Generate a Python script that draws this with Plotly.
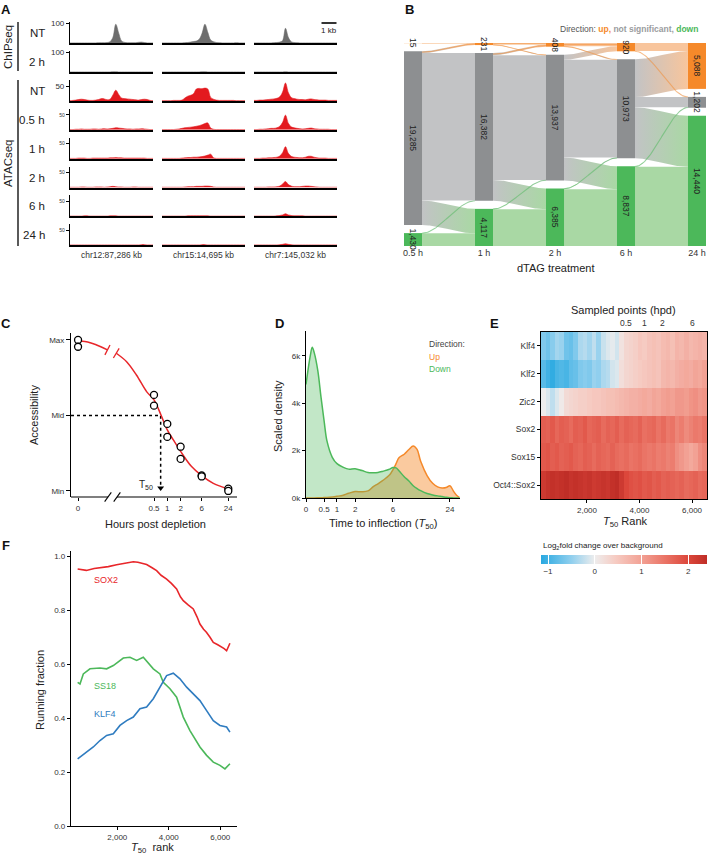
import numpy as np
import plotly.graph_objects as go

W, H = 709, 858
FONT = "Liberation Sans, Arial, sans-serif"
TXT = "#222222"

# ======================= DATA =======================
# ---- Panel A: coverage tracks (30 bins across each locus window) ----
A_LOCI = ["chr12:87,286 kb", "chr15:14,695 kb", "chr7:145,032 kb"]
A_ROW_LABELS = ["NT", "2 h", "NT", "0.5 h", "1 h", "2 h", "6 h", "24 h"]
A_ASSAY = ["ChIPseq", "ChIPseq", "ATACseq", "ATACseq", "ATACseq", "ATACseq", "ATACseq", "ATACseq"]
A_YMAX = {"ChIPseq": 105, "ATACseq": 70}
A_TICK = {"ChIPseq": 100, "ATACseq": 50}

CHIP_NT = [
    [2, 2, 2, 2, 2, 2, 2, 2, 2, 2, 3, 3, 3, 4, 8, 30, 95, 52, 12, 5, 3, 3, 3, 3, 5, 6, 4, 2, 2, 2],
    [2, 2, 2, 2, 2, 2, 2, 2, 3, 4, 6, 9, 11, 20, 50, 95, 55, 16, 8, 4, 3, 2, 2, 2, 2, 2, 3, 2, 2, 2],
    [2, 2, 2, 2, 2, 2, 2, 3, 4, 6, 14, 75, 30, 8, 4, 3, 2, 2, 2, 2, 2, 2, 2, 2, 2, 2, 2, 2, 2, 2],
]
CHIP_2H = [
    [1, 1, 1, 1, 1, 1, 1, 1, 1, 1, 1, 1, 1, 1, 1, 2, 2, 1, 1, 1, 1, 1, 1, 1, 1, 1, 1, 1, 1, 1],
    [1, 1, 1, 1, 1, 1, 1, 1, 1, 1, 1, 1, 1, 1, 2, 2, 1, 1, 1, 1, 1, 1, 1, 1, 1, 1, 1, 1, 1, 1],
    [1, 1, 1, 1, 1, 1, 1, 1, 1, 1, 1, 2, 1, 1, 1, 1, 1, 1, 1, 1, 1, 1, 1, 1, 1, 1, 1, 1, 1, 1],
]
ATAC_NT = [
    [1, 2, 3, 5, 6, 5, 3, 2, 2, 3, 5, 8, 7, 4, 6, 20, 36, 22, 10, 8, 7, 6, 5, 4, 3, 5, 6, 5, 2, 1],
    [1, 1, 1, 1, 2, 2, 2, 3, 10, 16, 19, 24, 40, 42, 41, 43, 40, 12, 6, 3, 2, 2, 2, 2, 2, 2, 1, 1, 1, 1],
    [2, 2, 3, 3, 4, 5, 6, 7, 9, 14, 30, 60, 28, 12, 8, 6, 5, 5, 4, 6, 7, 5, 4, 3, 3, 3, 2, 2, 2, 2],
]
ATAC_05H = [
    [1, 1, 2, 2, 3, 2, 2, 2, 3, 3, 2, 3, 4, 3, 4, 5, 7, 6, 5, 4, 3, 3, 2, 3, 3, 4, 3, 2, 1, 1],
    [1, 1, 1, 1, 1, 2, 3, 5, 7, 8, 9, 10, 12, 14, 17, 21, 23, 6, 2, 1, 1, 1, 1, 1, 1, 1, 1, 1, 1, 1],
    [1, 1, 2, 2, 3, 4, 5, 5, 7, 12, 25, 49, 22, 10, 7, 5, 4, 3, 4, 5, 6, 4, 3, 2, 2, 2, 2, 1, 1, 1],
]
ATAC_1H = [
    [1, 1, 1, 2, 2, 2, 1, 1, 2, 2, 2, 2, 2, 2, 3, 3, 4, 3, 3, 2, 2, 2, 2, 2, 2, 2, 2, 1, 1, 1],
    [1, 1, 1, 1, 1, 1, 1, 2, 3, 4, 4, 5, 5, 6, 7, 9, 12, 15, 3, 1, 1, 1, 1, 1, 1, 1, 1, 1, 1, 1],
    [1, 1, 1, 2, 2, 3, 3, 4, 5, 9, 20, 40, 18, 8, 5, 4, 3, 3, 5, 8, 8, 5, 3, 2, 2, 2, 1, 1, 1, 1],
]
ATAC_2H = [
    [1, 1, 1, 1, 2, 2, 1, 1, 1, 2, 2, 2, 1, 2, 3, 4, 3, 2, 2, 1, 1, 1, 2, 2, 1, 1, 1, 1, 1, 1],
    [1, 1, 1, 1, 1, 1, 1, 1, 2, 3, 3, 3, 4, 4, 4, 5, 5, 4, 2, 1, 1, 1, 1, 1, 1, 1, 1, 1, 1, 1],
    [1, 1, 1, 1, 1, 2, 2, 2, 3, 5, 12, 20, 10, 5, 3, 3, 3, 4, 5, 5, 4, 3, 2, 1, 1, 1, 1, 1, 1, 1],
]
ATAC_6H = [
    [1, 1, 1, 1, 1, 2, 2, 1, 1, 1, 1, 1, 1, 1, 2, 2, 2, 1, 1, 1, 1, 1, 1, 1, 1, 1, 1, 1, 1, 1],
    [1, 1, 1, 1, 1, 1, 1, 1, 1, 2, 2, 2, 2, 2, 2, 2, 2, 1, 1, 1, 1, 1, 1, 1, 1, 1, 1, 1, 1, 1],
    [1, 1, 1, 1, 1, 1, 1, 1, 2, 3, 5, 9, 5, 3, 2, 2, 2, 2, 1, 1, 1, 1, 1, 1, 1, 1, 1, 1, 1, 1],
]
ATAC_24H = [
    [1, 1, 1, 1, 1, 1, 1, 1, 1, 1, 1, 1, 1, 1, 1, 1, 1, 1, 1, 1, 1, 1, 1, 1, 1, 2, 2, 1, 1, 1],
    [1, 1, 1, 1, 1, 1, 1, 1, 1, 1, 1, 1, 1, 1, 2, 2, 1, 1, 1, 1, 1, 1, 1, 1, 1, 1, 1, 1, 1, 1],
    [1, 1, 1, 1, 1, 1, 1, 1, 1, 2, 3, 5, 3, 2, 1, 1, 1, 1, 1, 1, 1, 1, 1, 1, 1, 1, 1, 1, 1, 1],
]
A_TRACKS = [CHIP_NT, CHIP_2H, ATAC_NT, ATAC_05H, ATAC_1H, ATAC_2H, ATAC_6H, ATAC_24H]
A_BINS = np.linspace(0, 1, 30)

# ---- Panel B: alluvial of direction calls ----
B_TIMES = ["0.5 h", "1 h", "2 h", "6 h", "24 h"]
B_UP = [15, 231, 408, 920, 5088]
B_NS = [19285, 16382, 13937, 10973, 1202]
B_DOWN = [1430, 4117, 6385, 8837, 14440]
# flows[source][target], order: up, not significant, down
B_FLOW_05_1 = [[15, 0, 0], [216, 16352, 2717], [0, 30, 1400]]
B_FLOW_1_2 = [[180, 51, 0], [228, 13836, 2318], [0, 50, 4067]]
B_FLOW_2_6 = [[350, 58, 0], [570, 10830, 2537], [0, 85, 6300]]
B_FLOW_6_24 = [[900, 20, 0], [4188, 1125, 5660], [0, 57, 8780]]
B_FLOWS = [B_FLOW_05_1, B_FLOW_1_2, B_FLOW_2_6, B_FLOW_6_24]

# ---- Panel C: schematic fit ----
C_TICK_HOURS = [0, 0.5, 1, 2, 6, 24]
C_TICK_TEXT = ["0", "0.5", "1", "2", "6", "24"]
C_POINT_HOURS = [0, 0, 0.5, 0.5, 1, 1, 2, 2, 6, 6, 24, 24]
C_POINT_ACC = [1.0, 0.955, 0.636, 0.565, 0.444, 0.358, 0.293, 0.212, 0.103, 0.096, 0.015, 0.0]
C_FIT_PRE_POS = [-6.62, -6.2, -5.8, -5.4, -5.0, -4.5]
C_FIT_PRE_ACC = [0.995, 0.99, 0.982, 0.97, 0.955, 0.934]
C_FIT_HOURS = [0.07, 0.12, 0.2, 0.34, 0.5, 0.72, 1.0, 1.37, 2.0, 3.5, 6.0, 11.0, 24.0]
C_FIT_ACC = [0.912, 0.856, 0.768, 0.658, 0.603, 0.503, 0.404, 0.338, 0.262, 0.163, 0.101, 0.05, 0.013]
C_T50_HOURS = 0.707

# ---- Panel D: scaled density of T50 ----
D_HOURS = [0, 0.1, 0.15, 0.2, 0.3, 0.4, 0.5, 0.6, 0.8, 1.0, 1.3, 1.6, 2.0, 2.5, 3, 3.5, 4, 4.5, 5,
           5.5, 6, 6.5, 7, 8, 9, 10, 11, 12, 14, 16, 18, 20, 22, 24, 26, 28, 30]
D_DOWN = [4.8, 6.0, 6.37, 6.15, 5.4, 4.25, 3.25, 2.4, 1.72, 1.45, 1.3, 1.22, 1.24, 1.16, 1.08, 1.07,
          1.08, 1.12, 1.17, 1.22, 1.29, 1.27, 1.15, 0.9, 0.72, 0.52, 0.4, 0.31, 0.19, 0.13, 0.09,
          0.06, 0.03, 0.01, 0.005, 0, 0]
D_UP = [0, 0, 0, 0.005, 0.01, 0.01, 0.02, 0.02, 0.04, 0.07, 0.12, 0.2, 0.27, 0.26, 0.3, 0.48, 0.6,
        0.72, 0.85, 0.98, 1.2, 1.45, 1.7, 1.85, 2.05, 2.2, 2.05, 1.55, 0.95, 0.62, 0.47, 0.42,
        0.44, 0.52, 0.3, 0.12, 0.02]
D_TICK_HOURS = [0, 0.5, 1, 2, 6, 24]
D_TICK_TEXT = ["0", "0.5", "1", "2", "6", "24"]

# ---- Panel E: motif enrichment heatmap ----
E_MOTIFS = ["Klf4", "Klf2", "Zic2", "Sox2", "Sox15", "Oct4::Sox2"]
E_RANK_START, E_RANK_END, E_NBINS = 250, 6570, 36
E_KLF4 = [-0.6, -0.7, -0.55, -0.4, -0.45, -0.7, -0.75, -0.6, -0.35, -0.3, -0.4, -0.25, -0.45, -0.2,
          -0.1, -0.05, -0.15, 0.15, 0.3, 0.35, 0.4, 0.5, 0.45, 0.55, 0.6, 0.55, 0.65, 0.7, 0.6,
          0.75, 0.7, 0.8, 0.7, 0.75, 0.8, 0.75]
E_KLF2 = [-0.85, -1.0, -1.1, -0.95, -0.9, -0.95, -0.8, -0.75, -0.6, -0.55, -0.6, -0.45, -0.5, -0.35,
          -0.3, -0.15, -0.1, 0.2, 0.3, 0.35, 0.4, 0.45, 0.5, 0.55, 0.6, 0.55, 0.7, 0.75, 0.7, 0.8,
          0.85, 0.9, 0.85, 0.95, 0.9, 1.0]
E_ZIC2 = [0.0, -0.1, -0.25, -0.1, 0.05, 0.25, 0.3, 0.35, 0.4, 0.4, 0.45, 0.5, 0.5, 0.55, 0.6, 0.6,
          0.65, 0.7, 0.75, 0.8, 0.8, 0.85, 0.9, 0.85, 0.95, 0.9, 1.0, 1.05, 1.0, 1.1, 1.1, 1.05,
          1.15, 1.2, 1.1, 1.15]
E_SOX2 = [1.75, 1.7, 1.8, 1.65, 1.75, 1.7, 1.6, 1.75, 1.7, 1.8, 1.65, 1.7, 1.75, 1.6, 1.7, 1.65,
          1.75, 1.6, 1.7, 1.65, 1.6, 1.7, 1.55, 1.6, 1.65, 1.5, 1.6, 1.45, 1.5, 1.3, 1.4, 1.25,
          1.35, 1.45, 1.4, 1.5]
E_SOX15 = [1.8, 1.85, 1.75, 1.8, 1.7, 1.75, 1.8, 1.7, 1.65, 1.75, 1.7, 1.6, 1.7, 1.65, 1.6, 1.7,
           1.6, 1.55, 1.6, 1.5, 1.55, 1.6, 1.5, 1.45, 1.5, 1.4, 1.45, 1.35, 1.4, 1.2, 1.1, 1.0,
           0.9, 1.0, 1.2, 1.3]
E_OCT4SOX2 = [2.2, 2.3, 2.35, 2.3, 2.35, 2.4, 2.3, 2.35, 2.3, 2.25, 2.3, 2.2, 2.25, 2.3, 2.25, 2.35,
              2.4, 2.2, 2.0, 1.9, 1.85, 1.9, 1.8, 1.85, 1.75, 1.8, 1.7, 1.75, 1.7, 1.65, 1.7, 1.6,
              1.65, 1.7, 1.6, 1.65]
E_HPD = ["0.5", "1", "2", "6"]
E_HPD_RANK = [3486, 4180, 4880, 6020]
E_CB_TICKS = [-1, 0, 1, 2]

# ---- Panel F: running fractions ----
F_SOX2_RANK = [460, 800, 1100, 1327, 1650, 1974, 2300, 2621, 2800, 3139, 3350, 3527, 3700, 3915,
               4100, 4303, 4450, 4562, 4750, 4950, 5100, 5209, 5350, 5468, 5600, 5727, 5900, 6050,
               6150, 6244, 6320, 6373]
F_SOX2 = [0.953, 0.948, 0.955, 0.957, 0.962, 0.969, 0.975, 0.98, 0.978, 0.97, 0.958, 0.947, 0.93,
          0.916, 0.9, 0.879, 0.85, 0.836, 0.82, 0.805, 0.775, 0.749, 0.73, 0.718, 0.7, 0.681,
          0.672, 0.665, 0.658, 0.65, 0.665, 0.678]
F_SS18_RANK = [460, 551, 680, 939, 1327, 1586, 1845, 2233, 2492, 2751, 3009, 3398, 3656, 3786,
               4045, 4303, 4562, 4821, 5209, 5468, 5727, 5986, 6180, 6373]
F_SS18 = [0.533, 0.527, 0.564, 0.583, 0.586, 0.583, 0.595, 0.623, 0.626, 0.614, 0.626, 0.583,
          0.564, 0.533, 0.509, 0.478, 0.404, 0.354, 0.293, 0.262, 0.237, 0.225, 0.212, 0.231]
F_KLF4_RANK = [460, 810, 1068, 1327, 1586, 1845, 2103, 2362, 2621, 2880, 3139, 3398, 3656, 3915,
               4174, 4433, 4692, 4950, 5209, 5468, 5727, 5986, 6244, 6373]
F_KLF4 = [0.249, 0.274, 0.293, 0.317, 0.336, 0.342, 0.373, 0.391, 0.404, 0.435, 0.441, 0.472,
          0.515, 0.558, 0.567, 0.546, 0.515, 0.49, 0.465, 0.428, 0.391, 0.373, 0.367, 0.348]

# ======================= FIGURE =======================
fig = go.Figure()
L = dict(width=W, height=H, margin=dict(l=0, r=0, t=0, b=0, pad=0, autoexpand=False),
         paper_bgcolor="white", plot_bgcolor="rgba(0,0,0,0)", showlegend=False, hovermode=False,
         font=dict(family=FONT, size=9, color=TXT))
ANN, SHP = [], []


def xd(a, b):
    return [a / W, b / W]


def yd(top, bot):
    return [1 - bot / H, 1 - top / H]


def refs(k):
    return ("x" if k == 1 else f"x{k}"), ("y" if k == 1 else f"y{k}")


def axkey(kind, k):
    return f"{kind}axis" if k == 1 else f"{kind}axis{k}"


def note(text, px, py, size=9, color=TXT, xanchor="center", yanchor="middle", **kw):
    ANN.append(dict(text=text, x=px / W, y=1 - py / H, xref="paper", yref="paper",
                    xanchor=xanchor, yanchor=yanchor, showarrow=False,
                    font=dict(size=size, color=color, family=FONT), **kw))


def pline(x0, y0, x1, y1, width=1.0, color="black"):
    SHP.append(dict(type="line", xref="paper", yref="paper", x0=x0 / W, x1=x1 / W,
                    y0=1 - y0 / H, y1=1 - y1 / H, line=dict(color=color, width=width)))


def axstyle(**kw):
    d = dict(showgrid=False, zeroline=False, ticks="outside", ticklen=3, tickwidth=1,
             tickcolor="black", showline=True, linecolor="black", linewidth=1.2,
             tickfont=dict(size=8, color="#333"))
    d.update(kw)
    return d


# ---------------- Panel A ----------------
A_COLS_PX = [(70, 153), (162, 245), (254, 337)]
for r, tracks in enumerate(A_TRACKS):
    base = 43.3 + 28.85 * r
    assay = A_ASSAY[r]
    col = "#6d6d6d" if assay == "ChIPseq" else "#e31a1f"
    for c in range(3):
        k = r * 3 + c + 1
        xr, yr = refs(k)
        fig.add_trace(go.Scatter(x=A_BINS, y=tracks[c], mode="lines", fill="tozeroy",
                                 line=dict(color=col, width=0.6, shape="spline"),
                                 fillcolor=col, xaxis=xr, yaxis=yr, hoverinfo="skip"))
        L[axkey("x", k)] = dict(domain=xd(*A_COLS_PX[c]), range=[0, 1], anchor=yr,
                                showline=True, linecolor="black", linewidth=1.8,
                                showticklabels=False, ticks="", showgrid=False, zeroline=False)
        yax = dict(domain=yd(base - 21, base), range=[0, A_YMAX[assay]], anchor=xr,
                   showgrid=False, zeroline=False)
        if c == 0:
            yax.update(showline=True, linecolor="black", linewidth=1.2, ticks="outside",
                       ticklen=3, tickwidth=1, tickcolor="black", tickvals=[A_TICK[assay]],
                       tickfont=dict(size=8 if r < 3 else 5, color="#333"))
        else:
            yax.update(visible=False)
        L[axkey("y", k)] = yax
    note(A_ROW_LABELS[r], 47, base - 10, size=11.5, xanchor="right")

for c, loc in enumerate(A_LOCI):
    note(loc, (A_COLS_PX[c][0] + A_COLS_PX[c][1]) / 2, 255, size=8.5, color="#333")
pline(18, 22, 18, 71, width=1.3)
pline(18, 80, 18, 246, width=1.3)
note("ChIPseq", 8, 47, size=11.5, textangle=-90)
note("ATACseq", 8, 163, size=11.5, textangle=-90)
pline(321.5, 23, 336.5, 23, width=1.6)
note("1 kb", 329, 30, size=8)

# ---------------- Panel B ----------------
kB = 25
xB, yB = refs(kB)
B_NODE_COL = ["#f5892a", "#8d8f91", "#4cb85a"]
B_FLOW_COL = ["#f8c59c", "#c2c3c5", "#a9d8a4"]
B_GAP = 887
B_TOTAL = B_UP[0] + B_NS[0] + B_DOWN[0] + 2 * B_GAP
HW = 0.127
tops = []
for t in range(5):
    v = [B_UP[t], B_NS[t], B_DOWN[t]]
    tops.append([0, v[0] + B_GAP, v[0] + v[1] + 2 * B_GAP])

u = np.linspace(0, 1, 50)
sm = u * u * (3 - 2 * u)
thin = []
for t, flows in enumerate(B_FLOWS):
    soff = list(tops[t])
    toff = list(tops[t + 1])
    seg = {}
    for s in range(3):
        for d in range(3):
            seg[(s, d)] = [soff[s], soff[s] + flows[s][d]]
            soff[s] += flows[s][d]
    for d in range(3):
        for s in range(3):
            seg[(s, d)] += [toff[d], toff[d] + flows[s][d]]
            toff[d] += flows[s][d]
    x0, x1 = t + HW, t + 1 - HW
    xs = x0 + (x1 - x0) * u
    order = [(s, d) for s in range(3) for d in range(3) if s == d] + \
            [(s, d) for s in range(3) for d in range(3) if s != d]
    for (s, d) in order:
        v = flows[s][d]
        if v == 0:
            continue
        s0, s1, t0, t1 = seg[(s, d)]
        top = s0 + (t0 - s0) * sm
        bot = s1 + (t1 - s1) * sm
        px_ = np.concatenate([xs, xs[::-1]])
        py_ = np.concatenate([top, bot[::-1]])
        kw = dict(x=px_, y=py_, mode="lines", fill="toself", line=dict(width=0),
                  xaxis=xB, yaxis=yB, hoverinfo="skip")
        kw["fillcolor"] = B_FLOW_COL[s]
        if s != d:
            kw["fillgradient"] = dict(type="horizontal",
                                      colorscale=[[0, B_FLOW_COL[s]], [1, B_FLOW_COL[d]]])
        fig.add_trace(go.Scatter(**kw))
        if v < 400:
            lc = B_NODE_COL[s] if s != 1 else B_NODE_COL[d]
            thin.append(go.Scatter(x=xs, y=(top + bot) / 2, mode="lines",
                                   line=dict(color=lc, width=1.1), opacity=0.5,
                                   xaxis=xB, yaxis=yB, hoverinfo="skip"))
for tr in thin:
    fig.add_trace(tr)

for t in range(5):
    vals = [B_UP[t], B_NS[t], B_DOWN[t]]
    for c in range(3):
        SHP.append(dict(type="rect", xref=xB, yref=yB, x0=t - HW, x1=t + HW,
                        y0=tops[t][c], y1=tops[t][c] + vals[c],
                        fillcolor=B_NODE_COL[c], line=dict(width=0), layer="above"))
        ANN.append(dict(text=f"{vals[c]:,}", x=t, y=tops[t][c] + vals[c] / 2, xref=xB, yref=yB,
                        xanchor="center", yanchor="middle", textangle=90, showarrow=False,
                        font=dict(size=8.5, color="#222", family=FONT)))

L[axkey("x", kB)] = dict(domain=xd(404, 706), range=[-HW, 4 + HW], anchor=yB, showgrid=False,
                         zeroline=False, showline=False, tickvals=list(range(5)),
                         ticktext=B_TIMES, ticks="", tickfont=dict(size=9, color="#333"))
L[axkey("y", kB)] = dict(domain=yd(43, 246), range=[B_TOTAL, 0], anchor=xB, visible=False)
note("dTAG treatment", 555, 268, size=11)
note("Direction: <b><span style='color:#f5892a'>up,</span></b> "
     "<span style='color:#9a9c9e'><b>not significant,</b></span> "
     "<b><span style='color:#4cb85a'>down</span></b>", 700, 29, size=8.5, color="#555",
     xanchor="right")

# ---------------- Panel C ----------------
kC = 26
xC, yC = refs(kC)
C_ZERO_POS = -6.71
C_XRANGE = [-7.24, 5.24]
C_BREAK = (-4.46, -3.78)


def c_pos(h):
    return float(np.log2(h)) if h > 0 else C_ZERO_POS


t50 = c_pos(C_T50_HOURS)
fig.add_trace(go.Scatter(x=[C_XRANGE[0], t50, t50], y=[0.5, 0.5, 0.02], mode="lines",
                         line=dict(color="black", width=1.5, dash="dot"), xaxis=xC, yaxis=yC))
fig.add_trace(go.Scatter(x=[t50], y=[0.02], mode="markers",
                         marker=dict(symbol="triangle-down", size=6, color="black"),
                         xaxis=xC, yaxis=yC))
fig.add_trace(go.Scatter(x=C_FIT_PRE_POS, y=C_FIT_PRE_ACC, mode="lines",
                         line=dict(color="#e8262a", width=1.5, shape="spline"), xaxis=xC, yaxis=yC))
fig.add_trace(go.Scatter(x=[c_pos(h) for h in C_FIT_HOURS], y=C_FIT_ACC, mode="lines",
                         line=dict(color="#e8262a", width=1.5, shape="spline"), xaxis=xC, yaxis=yC))
fig.add_trace(go.Scatter(x=[C_FIT_PRE_POS[-1], c_pos(C_FIT_HOURS[0])],
                         y=[C_FIT_PRE_ACC[-1], C_FIT_ACC[0]], mode="markers",
                         marker=dict(symbol="line-ns", size=8, angle=[27, 31],
                                     line=dict(color="#e8262a", width=1.3)),
                         xaxis=xC, yaxis=yC))
fig.add_trace(go.Scatter(x=[c_pos(h) for h in C_POINT_HOURS], y=C_POINT_ACC, mode="markers",
                         marker=dict(symbol="circle", size=7, color="white",
                                     line=dict(color="black", width=1.3)), xaxis=xC, yaxis=yC))
L[axkey("x", kC)] = axstyle(domain=xd(71, 237), range=C_XRANGE, anchor=yC, showline=False,
                            tickvals=[c_pos(h) for h in C_TICK_HOURS], ticktext=C_TICK_TEXT)
L[axkey("y", kC)] = axstyle(domain=yd(333, 497), range=[-0.04, 1.046], anchor=xC,
                            tickvals=[0, 0.5, 1], ticktext=["Min", "Mid", "Max"], ticklen=4)
for xa, xb in [(C_XRANGE[0], C_BREAK[0]), (C_BREAK[1], C_XRANGE[1])]:
    SHP.append(dict(type="line", xref=xC, yref=f"{yC} domain", x0=xa, x1=xb, y0=0, y1=0,
                    line=dict(color="black", width=1.2)))
for b in C_BREAK:
    SHP.append(dict(type="line", xref=xC, yref=f"{yC} domain", x0=b - 0.25, x1=b + 0.25,
                    y0=-0.028, y1=0.028, line=dict(color="black", width=1.1)))
ANN.append(dict(text="T<sub>50</sub>", x=t50 - 0.45, y=0.04, xref=xC, yref=yC, xanchor="right",
                yanchor="middle", showarrow=False, font=dict(size=10, color="#222", family=FONT)))
note("Accessibility", 34, 415, size=11, textangle=-90)
note("Hours post depletion", 155, 524, size=11)

# ---------------- Panel D ----------------
kD = 27
xD, yD = refs(kD)
dx_ = [float(np.log2(1 + h)) for h in D_HOURS]
fig.add_trace(go.Scatter(x=dx_, y=D_UP, mode="lines", fill="tozeroy",
                         line=dict(color="#f5892a", width=1.5, shape="spline"),
                         fillcolor="rgba(245,137,42,0.45)", xaxis=xD, yaxis=yD))
fig.add_trace(go.Scatter(x=dx_, y=D_DOWN, mode="lines", fill="tozeroy",
                         line=dict(color="#4cb85a", width=1.5, shape="spline"),
                         fillcolor="rgba(76,184,90,0.34)", xaxis=xD, yaxis=yD))
L[axkey("x", kD)] = axstyle(domain=xd(306, 460), range=[0, 4.97], anchor=yD,
                            tickvals=[float(np.log2(1 + h)) for h in D_TICK_HOURS],
                            ticktext=D_TICK_TEXT)
L[axkey("y", kD)] = axstyle(domain=yd(331, 498), range=[0, 7.055], anchor=xD,
                            tickvals=[0, 2, 4, 6], ticktext=["0k", "2k", "4k", "6k"])
note("Direction:", 427, 344, size=8.5, color="#444", xanchor="left")
note("Up", 427, 357, size=8.5, color="#f5892a", xanchor="left")
note("Down", 427, 369, size=8.5, color="#4cb85a", xanchor="left")
note("Scaled density", 278, 416, size=11, textangle=-90)
note("Time to inflection (<i>T</i><sub>50</sub>)", 383, 524, size=11)

# ---------------- Panel E ----------------
kE = 28
xE, yE = refs(kE)
edges = np.linspace(E_RANK_START, E_RANK_END, E_NBINS + 1)
centers = (edges[:-1] + edges[1:]) / 2
E_Z = [E_KLF4, E_KLF2, E_ZIC2, E_SOX2, E_SOX15, E_OCT4SOX2]
zmin, zmax = -1.15, 2.4


def cpos(v):
    return (v - zmin) / (zmax - zmin)


E_CS = [[0, "#29a9e1"], [cpos(-0.5), "#90cfee"], [cpos(0), "#eeeded"], [cpos(0.45), "#f6cbc2"],
        [cpos(1), "#f2a194"], [cpos(1.5), "#ea7466"], [cpos(2), "#dc473b"], [1, "#bf2e27"]]
fig.add_trace(go.Heatmap(x=centers, y=E_MOTIFS, z=E_Z, zmin=zmin, zmax=zmax, colorscale=E_CS,
                         xaxis=xE, yaxis=yE, hoverinfo="skip",
                         colorbar=dict(orientation="h", x=541 / W, xanchor="left",
                                       y=1 - 555 / H, yanchor="top", len=166 / W,
                                       lenmode="fraction", thickness=9, xpad=0, ypad=0,
                                       outlinewidth=0, tickvals=E_CB_TICKS,
                                       ticktext=["\u22121", "0", "1", "2"], ticks="inside",
                                       ticklen=9, tickcolor="white", tickwidth=1,
                                       tickfont=dict(size=8, color="#333"))))
L[axkey("x", kE)] = axstyle(domain=xd(541, 707), range=[E_RANK_START, E_RANK_END], anchor=yE,
                            mirror=True, tickvals=[2000, 4000, 6000],
                            ticktext=["2,000", "4,000", "6,000"])
L[axkey("y", kE)] = axstyle(domain=yd(332, 499), anchor=xE, mirror=True, autorange="reversed",
                            type="category", tickfont=dict(size=8.5, color="#333"))
for lab, rk in zip(E_HPD, E_HPD_RANK):
    ANN.append(dict(text=lab, x=rk, y=1 - 323 / H, xref=xE, yref="paper", xanchor="center",
                    yanchor="middle", showarrow=False,
                    font=dict(size=8.5, color="#333", family=FONT)))
note("Sampled points (hpd)", 623, 310, size=11)
note("<i>T</i><sub>50</sub> Rank", 625, 522, size=11)
note("Log<sub>2</sub>fold change over background", 541, 546, size=8, xanchor="left")

# ---------------- Panel F ----------------
kF = 29
xF, yF = refs(kF)
for rk, vals, colr in [(F_SOX2_RANK, F_SOX2, "#e8262a"), (F_SS18_RANK, F_SS18, "#4cb85a"),
                       (F_KLF4_RANK, F_KLF4, "#2f7cc0")]:
    fig.add_trace(go.Scatter(x=rk, y=vals, mode="lines", line=dict(color=colr, width=1.6),
                             xaxis=xF, yaxis=yF))
for lab, yv, colr in [("SOX2", 0.912, "#e8262a"), ("SS18", 0.52, "#4cb85a"),
                      ("KLF4", 0.416, "#2f7cc0")]:
    ANN.append(dict(text=lab, x=1000, y=yv, xref=xF, yref=yF, xanchor="left", yanchor="middle",
                    showarrow=False, font=dict(size=9, color=colr, family=FONT)))
L[axkey("x", kF)] = axstyle(domain=xd(71, 237), range=[202, 6648], anchor=yF,
                            tickvals=[2000, 4000, 6000], ticktext=["2,000", "4,000", "6,000"])
L[axkey("y", kF)] = axstyle(domain=yd(551, 826), range=[0, 1.02], anchor=xF,
                            tickvals=[0, 0.2, 0.4, 0.6, 0.8, 1.0], tickformat=".1f")
note("Running fraction", 40, 690, size=11, textangle=-90)
note("<i>T</i><sub>50</sub>  rank", 152, 848, size=11)

# ---------------- Panel letters ----------------
for letter, px, py in [("A", 6, 9), ("B", 409, 9), ("C", 6, 323), ("D", 279, 323),
                       ("E", 494, 323), ("F", 6, 545)]:
    note(f"<b>{letter}</b>", px, py, size=13, color="#111")

L["annotations"] = ANN
L["shapes"] = SHP
fig.update_layout(**L)
fig.write_html("out.html", config={"displayModeBar": False},
               post_script="document.body.style.margin='0';document.body.style.overflow='hidden';")
